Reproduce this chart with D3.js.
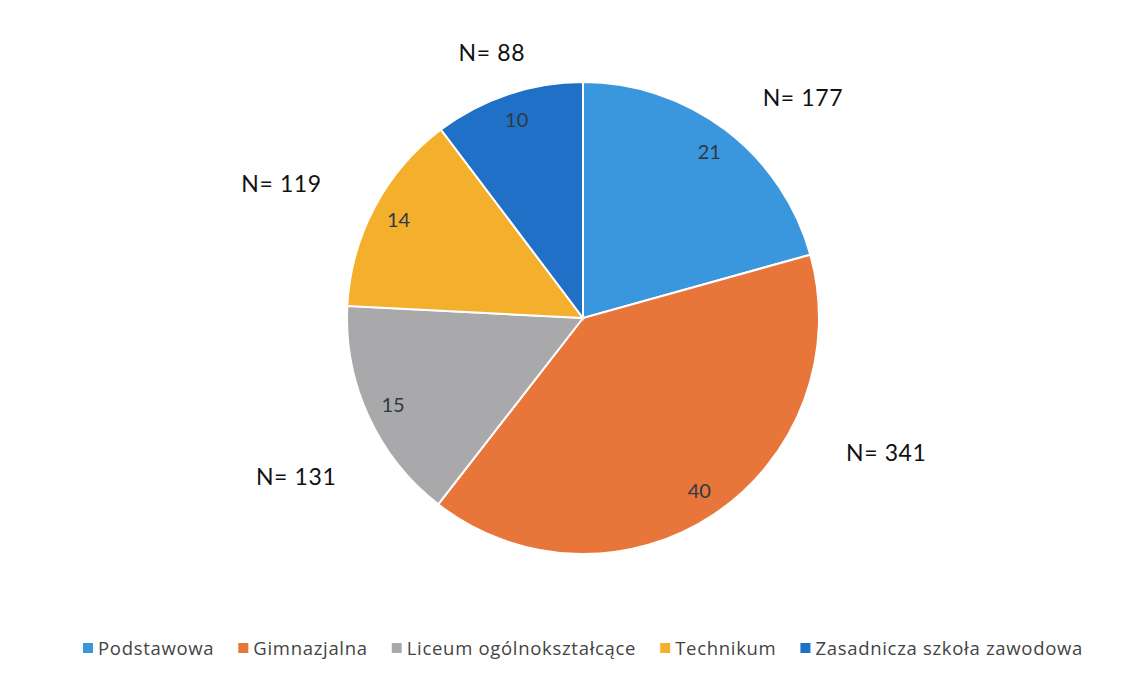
<!DOCTYPE html>
<html>
<head>
<meta charset="utf-8">
<script src="https://cdn.jsdelivr.net/npm/d3@7"></script>
<style>
  body { margin: 0; background: #fff; }
  svg { display: block; font-family: Lato, "Open Sans", sans-serif; }
</style>
</head>
<body>
<div id="chart"></div>
<script>
// dados
const categories = ["Podstawowa", "Gimnazjalna", "Liceum ogólnokształcące", "Technikum", "Zasadnicza szkoła zawodowa"];
const counts = [177, 341, 131, 119, 88];
const percents = [21, 40, 15, 14, 10];
const colors = ["#3a96dd", "#e8763a", "#a9a9ac", "#f4b02c", "#1f70c6"];

// posição das etiquetas "N=" (ângulo em graus a partir do topo, raio)
const nLabelPos = [[45, 311], [114, 332], [241, 328], [294, 330], [341, 280]];

const width = 1137, height = 677;
const cx = 583, cy = 318, radius = 236;

const svg = d3.select("#chart").append("svg")
  .attr("width", width)
  .attr("height", height);

const data = categories.map((c, i) => ({ cat: c, n: counts[i], pct: percents[i], color: colors[i] }));

const pie = d3.pie().sort(null).value(d => d.n);
const arcs = pie(data);
const arc = d3.arc().innerRadius(0).outerRadius(radius);
const labelArc = d3.arc().innerRadius(radius * 0.885).outerRadius(radius * 0.885);

const g = svg.append("g").attr("transform", `translate(${cx},${cy})`);

g.selectAll("path.slice")
  .data(arcs)
  .join("path")
  .attr("class", "slice")
  .attr("d", arc)
  .attr("fill", d => d.data.color)
  .attr("stroke", "#fff")
  .attr("stroke-width", 2);

// percentagens dentro das fatias
g.selectAll("text.pct")
  .data(arcs)
  .join("text")
  .attr("class", "pct")
  .attr("transform", d => `translate(${labelArc.centroid(d)})`)
  .attr("text-anchor", "middle")
  .attr("dy", "0.35em")
  .style("font-size", "20px")
  .style("fill", "#2f3a44")
  .text(d => d.data.pct);

// etiquetas N=
g.selectAll("text.nlab")
  .data(arcs)
  .join("text")
  .attr("class", "nlab")
  .attr("x", (d, i) => Math.sin(nLabelPos[i][0] * Math.PI / 180) * nLabelPos[i][1])
  .attr("y", (d, i) => -Math.cos(nLabelPos[i][0] * Math.PI / 180) * nLabelPos[i][1])
  .attr("text-anchor", "middle")
  .attr("dy", "0.35em")
  .style("font-size", "23px")
  .style("letter-spacing", "0.6px")
  .style("fill", "#111")
  .text(d => "N= " + d.data.n);

// legenda
const legendW = 1000, gap = 24, sq = 10, textOff = 15;
const legend = svg.append("g").attr("transform", `translate(0, 649)`);
const items = legend.selectAll("g.item")
  .data(data)
  .join("g")
  .attr("class", "item");

items.append("rect")
  .attr("width", sq)
  .attr("height", sq)
  .attr("y", -sq / 2 - 1)
  .attr("fill", d => d.color);

const labels = items.append("text")
  .attr("x", textOff)
  .attr("dy", "0.35em")
  .style("font-family", "'Open Sans', sans-serif")
  .style("font-size", "18.5px")
  .style("fill", "#444")
  .text(d => d.cat);

// espaçamento de letras para ocupar a largura da legenda
let natural = 0, nChars = 0;
labels.each(function (d) {
  natural += this.getComputedTextLength();
  nChars += d.cat.length;
});
const ls = Math.max(0, (legendW - natural - data.length * textOff - (data.length - 1) * gap) / nChars);
labels.style("letter-spacing", ls + "px");

let offsets = [], xPos = 0;
labels.each(function (d) {
  offsets.push(xPos);
  xPos += textOff + this.getComputedTextLength() + gap;
});
const startX = cx - (xPos - gap) / 2;
items.attr("transform", (d, i) => `translate(${startX + offsets[i]}, 0)`);
</script>
</body>
</html>
